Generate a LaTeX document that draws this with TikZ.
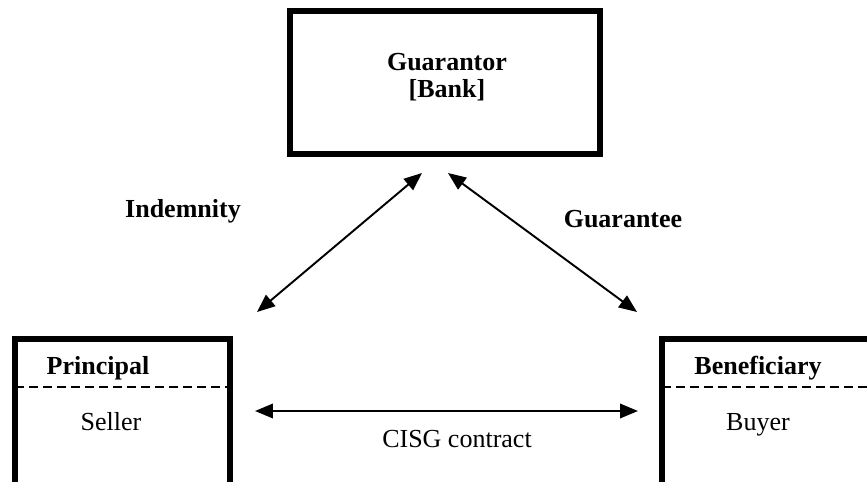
\documentclass[tikz,border=0pt]{standalone}
\usepackage{fontspec}
\setmainfont{Liberation Serif}
\usetikzlibrary{positioning, arrows.meta}

\begin{document}
\begin{tikzpicture}[x=0.02cm,y=-0.02cm,
  party/.style={draw,line width=3.4pt,inner sep=0pt},
  head/.style={font=\fontsize{14.8}{17}\selectfont\bfseries,anchor=base,inner sep=0pt},
  role/.style={font=\fontsize{14.8}{17}\selectfont,anchor=base,inner sep=0pt},
  split/.style={line width=1pt,dash pattern=on 0.18cm off 0.1cm},
  link/.style={line width=1.1pt,{Triangle[length=0.36cm,width=0.29cm]}-{Triangle[length=0.36cm,width=0.29cm]}}]
\useasboundingbox (0,0) rectangle (867,481);
\clip (0,0) rectangle (867,481);

% the three parties
\node[party,minimum width=6.2cm,minimum height=2.86cm] (bank) at (445,82.5) {};
\node[party,minimum width=4.3cm,minimum height=5.22cm] (principal) at (122.5,469.5) {};
\node[party,minimum width=6.76cm,minimum height=5.22cm] (beneficiary) at (831,469.5) {};

\node[head] (guarantor) at (447,70) {Guarantor};
\node[head] (banklbl) at (447,97) {[Bank]};

\node[head] (principallbl) at (98,374) {Principal};
\node[role] (seller) at (111,430) {Seller};
\draw[split] (15,387) -- (230,387);

\node[head] (beneficiarylbl) at (758,374) {Beneficiary};
\node[role] (buyer) at (758,430) {Buyer};
\draw[split] (662,387) -- (880,387);

% arrow ends
\coordinate (pl) at (257,312);
\coordinate (gl) at (422,173);
\coordinate (gr) at (448,173);
\coordinate (br) at (637,312);
\coordinate (sl) at (255,411);
\coordinate (sr) at (638,411);

\draw[link] (pl) -- (gl);
\draw[link] (gr) -- (br);
\draw[link] (sl) -- (sr);

\node[head] (indemnity) at (183,217) {Indemnity};
\node[head] (guarantee) at (623,227) {Guarantee};
\node[role] (cisg) at (457,447) {CISG contract};
\end{tikzpicture}
\end{document}
